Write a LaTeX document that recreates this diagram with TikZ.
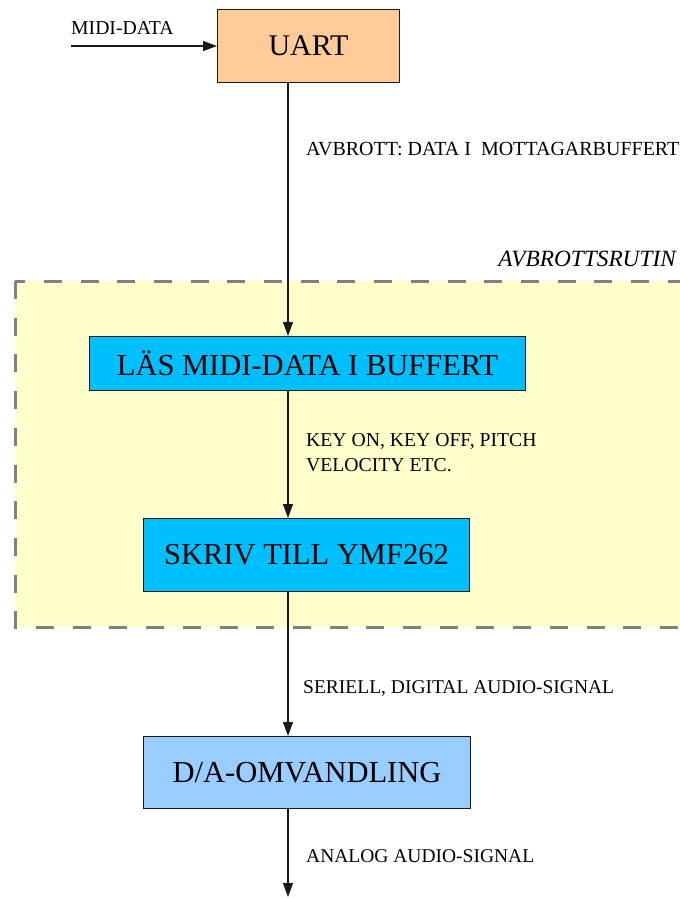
\documentclass[tikz,border=0pt]{standalone}
\usepackage{fontspec}
\setmainfont{Liberation Serif}
\usetikzlibrary{arrows.meta}
\definecolor{uartfill}{HTML}{FFCC99}
\definecolor{stepfill}{HTML}{00BFFF}
\definecolor{dafill}{HTML}{99CCFF}
\definecolor{isrfill}{HTML}{FFFFCC}
\definecolor{isrline}{HTML}{808080}
\begin{document}
\begin{tikzpicture}[x=1pt,y=-1pt,
  block/.style={draw=black!90, line width=1pt, inner sep=0pt, anchor=north west,
    font=\fontsize{30.5}{34}\selectfont},
  lbl/.style={anchor=base west, inner sep=0pt, font=\fontsize{19.7}{23}\selectfont},
  flow/.style={draw=black!90, line width=1.1pt, -{Triangle[width=10pt,length=14pt]}},
  isr/.style={fill=isrfill, draw=isrline, line width=3pt, dash pattern=on 18pt off 18.7pt},
]
\useasboundingbox (0,0) rectangle (680,898);

% interrupt routine region
\draw[isr] (15,281) rectangle (720,627);
\node[anchor=base east, inner sep=0pt, font=\fontsize{23.3}{27}\selectfont\itshape] (isrname) at (676,266) {AVBROTTSRUTIN};

% blocks
\node[block, fill=uartfill, minimum width=182, minimum height=73, font=\fontsize{30}{34}\selectfont] (uart) at (217,9) {UART};
\node[block, fill=stepfill, minimum width=436, minimum height=54] (las) at (89,336) {LÄS MIDI-DATA I BUFFERT};
\node[block, fill=stepfill, minimum width=326, minimum height=73] (skriv) at (143,518) {SKRIV TILL YMF262};
\node[block, fill=dafill, minimum width=327, minimum height=72] (da) at (143,736) {D/A-OMVANDLING};

% signal path
\coordinate (spine) at (288,0);
\coordinate (midiin) at (71,45);
\coordinate (out) at (288,897);

\draw[flow] (midiin |- uart.west) -- (uart.west);
\draw[flow] (uart.south -| spine) -- (las.north -| spine);
\draw[flow] (las.south -| spine) -- (skriv.north -| spine);
\draw[flow] (skriv.south -| spine) -- (da.north -| spine);
\draw[flow] (da.south -| spine) -- (out);

% labels
\node[lbl] (lmidi) at (71,34) {MIDI-DATA};
\node[lbl, font=\fontsize{20}{23}\selectfont] (lavb) at (306,155) {AVBROTT: DATA I\ \ MOTTAGARBUFFERT};
\node[lbl] (lkey1) at (306,446) {KEY ON, KEY OFF, PITCH};
\node[lbl] (lkey2) at (306,471) {VELOCITY ETC.};
\node[lbl, font=\fontsize{19.5}{23}\selectfont] (lser) at (303,693) {SERIELL, DIGITAL AUDIO-SIGNAL};
\node[lbl, font=\fontsize{19.5}{23}\selectfont] (lana) at (306,862) {ANALOG AUDIO-SIGNAL};
\end{tikzpicture}
\end{document}
